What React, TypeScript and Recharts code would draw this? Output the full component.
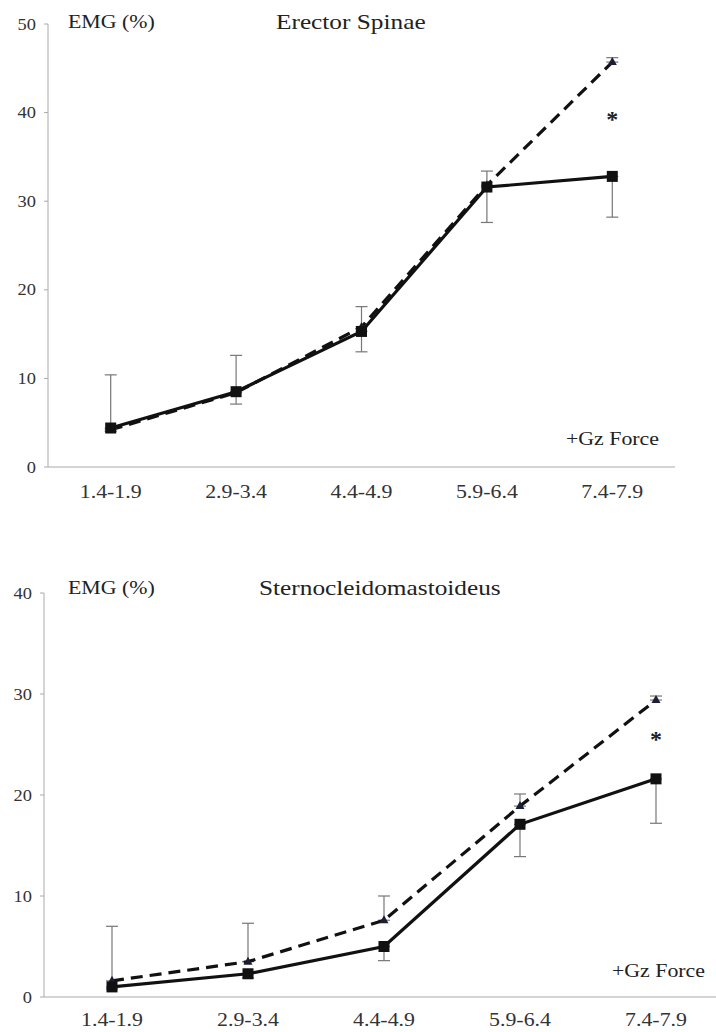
import { ComposedChart, Line, XAxis, YAxis, ErrorBar } from 'recharts';

const gzRanges = ['1.4-1.9', '2.9-3.4', '4.4-4.9', '5.9-6.4', '7.4-7.9'];

// Erector Spinae
const esSolid = [4.4, 8.5, 15.3, 31.6, 32.8];
const esSolidErr = [0.4, 1.4, 2.3, 4.0, 4.6];
const esDashed = [4.2, 8.4, 15.8, 31.8, 45.7];
const esDashedErr = [6.2, 4.2, 2.3, 1.6, 0.5];
const esStar = [null, null, null, null, 39.5];
const esTicks = [0, 10, 20, 30, 40, 50];

// Sternocleidomastoideus
const scmSolid = [1.0, 2.3, 5.0, 17.1, 21.6];
const scmSolidErr = [0.2, 0.4, 1.4, 3.2, 4.4];
const scmDashed = [1.6, 3.5, 7.6, 18.9, 29.4];
const scmDashedErr = [5.4, 3.8, 2.4, 1.2, 0.4];
const scmStar = [null, null, null, null, 25.7];
const scmTicks = [0, 10, 20, 30, 40];

const FONT = '"Liberation Serif", "DejaVu Serif", "Times New Roman", serif';
// the original figure is a bit stretched sideways
const STRETCH = 1.15;

const buildRows = (
  solid: number[],
  solidErr: number[],
  dashed: number[],
  dashedErr: number[],
  star: (number | null)[]
) =>
  gzRanges.map((g, i) => ({
    g,
    solid: solid[i],
    solidErr: [solidErr[i], 0],
    dashed: dashed[i],
    dashedErr: [0, dashedErr[i]],
    star: star[i],
  }));

const SquareDot = (props: any) => {
  const { cx, cy, index } = props;
  if (cx == null || cy == null) return <g key={`s${index}`} />;
  return <rect key={`s${index}`} x={cx - 5.5} y={cy - 5.5} width={11} height={11} fill="#111" />;
};

const TriangleDot = (props: any) => {
  const { cx, cy, index } = props;
  if (cx == null || cy == null) return <g key={`t${index}`} />;
  return (
    <polygon
      key={`t${index}`}
      points={`${cx},${cy - 5} ${cx - 4.5},${cy + 3} ${cx + 4.5},${cy + 3}`}
      fill="#1c1f33"
    />
  );
};

const StarDot = (props: any) => {
  const { cx, cy, index, value } = props;
  if (cx == null || cy == null || value == null) return <g key={`a${index}`} />;
  return (
    <text
      key={`a${index}`}
      x={cx}
      y={cy + 10}
      textAnchor="middle"
      fontSize={24}
      fontWeight="bold"
      fill="#222"
      fontFamily={FONT}
    >
      *
    </text>
  );
};

const XTick = (props: any) => {
  const { x, y, payload } = props;
  return (
    <g transform={`translate(${x},${y})`}>
      <text
        transform={`scale(${STRETCH},1)`}
        textAnchor="middle"
        dy="0.71em"
        fontSize={19}
        fill="#333"
        fontFamily={FONT}
      >
        {payload.value}
      </text>
    </g>
  );
};

const YTick = (props: any) => {
  const { x, y, payload } = props;
  return (
    <g transform={`translate(${x},${y})`}>
      <text
        transform={`scale(${STRETCH},1)`}
        textAnchor="end"
        dy="0.35em"
        fontSize={16}
        fill="#333"
        fontFamily={FONT}
      >
        {payload.value}
      </text>
    </g>
  );
};

interface PanelProps {
  rows: ReturnType<typeof buildRows>;
  ticks: number[];
  width: number;
  height: number;
  margin: { top: number; right: number; bottom: number; left: number };
  yWidth: number;
  xHeight: number;
  pad: number;
  tickMargin: number;
}

const Panel = ({ rows, ticks, width, height, margin, yWidth, xHeight, pad, tickMargin }: PanelProps) => (
  <ComposedChart width={width} height={height} data={rows} margin={margin}>
    <XAxis
      dataKey="g"
      padding={{ left: pad, right: pad }}
      tickLine={false}
      tickSize={0}
      tickMargin={tickMargin}
      height={xHeight}
      axisLine={{ stroke: '#aaa' }}
      tick={XTick}
      interval={0}
    />
    <YAxis
      type="number"
      domain={[ticks[0], ticks[ticks.length - 1]]}
      ticks={ticks}
      allowDataOverflow
      width={yWidth}
      tickSize={4}
      tickMargin={8}
      axisLine={{ stroke: '#aaa' }}
      tickLine={{ stroke: '#aaa' }}
      tick={YTick}
    />
    <Line
      dataKey="dashed"
      stroke="#111"
      strokeWidth={3.2}
      strokeDasharray="12 7"
      dot={TriangleDot}
      activeDot={false}
      isAnimationActive={false}
    >
      <ErrorBar dataKey="dashedErr" width={6} stroke="#777" strokeWidth={1.2} direction="y" />
    </Line>
    <Line
      dataKey="solid"
      stroke="#111"
      strokeWidth={3.2}
      dot={SquareDot}
      activeDot={false}
      isAnimationActive={false}
    >
      <ErrorBar dataKey="solidErr" width={6} stroke="#777" strokeWidth={1.2} direction="y" />
    </Line>
    <Line
      dataKey="star"
      stroke="none"
      dot={StarDot}
      activeDot={false}
      isAnimationActive={false}
    />
  </ComposedChart>
);

const label = (text: string, left: number, top: number, size: number) => (
  <div
    style={{
      position: 'absolute',
      left,
      top,
      fontFamily: FONT,
      fontSize: size,
      color: '#222',
      whiteSpace: 'nowrap',
      lineHeight: 1,
      transform: `scaleX(${STRETCH})`,
      transformOrigin: 'left center',
    }}
  >
    {text}
  </div>
);

export default function App() {
  const esRows = buildRows(esSolid, esSolidErr, esDashed, esDashedErr, esStar);
  const scmRows = buildRows(scmSolid, scmSolidErr, scmDashed, scmDashedErr, scmStar);
  return (
    <div
      style={{
        position: 'absolute',
        left: 0,
        top: 0,
        width: 716,
        height: 1032,
        overflow: 'hidden',
        background: '#fff',
      }}
    >
      <div style={{ position: 'absolute', left: 0, top: 0 }}>
        <Panel
          rows={esRows}
          ticks={esTicks}
          width={716}
          height={520}
          margin={{ top: 24, right: 41, bottom: 0, left: 0 }}
          yWidth={48}
          xHeight={53}
          pad={62.7}
          tickMargin={18}
        />
      </div>
      <div style={{ position: 'absolute', left: 0, top: 560 }}>
        <Panel
          rows={scmRows}
          ticks={scmTicks}
          width={730}
          height={472}
          margin={{ top: 33, right: 6, bottom: 0, left: 0 }}
          yWidth={44}
          xHeight={35}
          pad={68}
          tickMargin={16}
        />
      </div>
      {label('EMG (%)', 68, 12, 19)}
      {label('Erector Spinae', 276, 11, 22)}
      {label('+Gz Force', 566, 429, 19)}
      {label('EMG (%)', 68, 578, 19)}
      {label('Sternocleidomastoideus', 259, 577, 22)}
      {label('+Gz Force', 612, 961, 19)}
    </div>
  );
}
